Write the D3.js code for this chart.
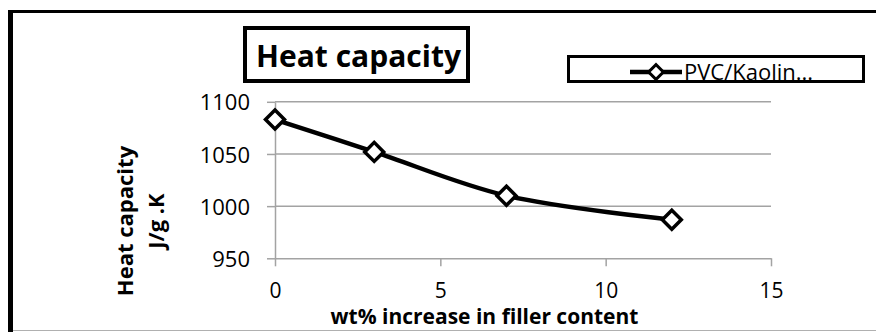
<!DOCTYPE html>
<html><head><meta charset="utf-8">
<script src="https://cdn.jsdelivr.net/npm/d3@7"></script>
<style>body{margin:0;background:#fff} svg{display:block}</style>
</head><body><svg id="chart" width="876" height="332"></svg>
<script>
// Heat capacity of PVC/Kaolin composites vs. filler loading
const fillerWt = [0, 3, 7, 12];
const heatCapacity = [1083, 1052, 1010, 987];
const seriesName = "PVC/Kaolin...";
const xTicks = [0, 5, 10, 15];
const yTicks = [950, 1000, 1050, 1100];
const chartTitle = "Heat capacity";
const xTitle = "wt% increase in filler content";
const yTitleLines = ["Heat capacity", "J/g .K"];

const svg = d3.select("#chart");
const W = 876, H = 332;
const plot = {left: 275, right: 771, top: 101.8, bottom: 258.3};
const grid = "#a3a3a3";
const FONT = "'Open Sans', 'Noto Sans', sans-serif";

const x = d3.scaleLinear().domain([0, 15]).range([plot.left, plot.right]);
const y = d3.scaleLinear().domain([950, 1100]).range([plot.bottom, plot.top]);

// outer chart frame
svg.append("line").attr("x1", 10.5).attr("x2", 10.5).attr("y1", 10).attr("y2", H)
  .attr("stroke", "#000").attr("stroke-width", 5);
svg.append("line").attr("x1", 8).attr("x2", W).attr("y1", 11.5).attr("y2", 11.5)
  .attr("stroke", "#000").attr("stroke-width", 3);
svg.append("line").attr("x1", 13).attr("x2", W).attr("y1", 330.5).attr("y2", 330.5)
  .attr("stroke", "#b0b0b0").attr("stroke-width", 1);

// horizontal gridlines
svg.append("g").selectAll("line").data(yTicks.filter(d => d !== 950)).join("line")
  .attr("x1", plot.left).attr("x2", plot.right)
  .attr("y1", d => y(d)).attr("y2", d => y(d))
  .attr("stroke", grid).attr("stroke-width", 1.5);

// axes
const yAxis = svg.append("g").attr("transform", `translate(${plot.left},0)`)
  .call(d3.axisLeft(y).tickValues(yTicks).tickFormat(d3.format("d"))
    .tickSize(8).tickPadding(17).tickSizeOuter(0));
const xAxis = svg.append("g").attr("transform", `translate(0,${plot.bottom})`)
  .call(d3.axisBottom(x).tickValues(xTicks).tickFormat(d3.format("d"))
    .tickSize(8).tickPadding(17).tickSizeOuter(0));
[yAxis, xAxis].forEach(a => {
  a.select(".domain").attr("stroke", grid).attr("stroke-width", 1.5);
  a.selectAll(".tick line").attr("stroke", grid).attr("stroke-width", 1.5);
  a.selectAll(".tick text").attr("fill", "#000").style("font-family", FONT).style("font-size", "21px");
});
yAxis.selectAll(".tick text").style("font-size", "22px").attr("dy", "0.37em");

// series line
const pts = fillerWt.map((d, i) => [d, heatCapacity[i]]);
svg.append("path").datum(pts)
  .attr("fill", "none").attr("stroke", "#000").attr("stroke-width", 4.5)
  .attr("stroke-linejoin", "round")
  .attr("d", d3.line().x(d => x(d[0])).y(d => y(d[1])).curve(d3.curveCatmullRom.alpha(0.5)));

// diamond markers
const diamond = d3.symbol().type(d3.symbolSquare).size(180);
svg.append("g").selectAll("path").data(pts).join("path")
  .attr("d", diamond)
  .attr("transform", d => `translate(${x(d[0])},${y(d[1])}) rotate(45)`)
  .attr("fill", "#fff").attr("stroke", "#000").attr("stroke-width", 3.5);

// title box
svg.append("rect").attr("x", 245).attr("y", 28).attr("width", 223).attr("height", 53)
  .attr("fill", "#fff").attr("stroke", "#000").attr("stroke-width", 4);
svg.append("text").attr("x", 358.5).attr("y", 67).attr("text-anchor", "middle")
  .style("font-family", FONT).style("font-weight", "bold").style("font-size", "30px")
  .text(chartTitle);

// legend
const lg = svg.append("g");
lg.append("rect").attr("x", 568.5).attr("y", 56.5).attr("width", 295).attr("height", 25)
  .attr("fill", "#fff").attr("stroke", "#000").attr("stroke-width", 3);
lg.append("line").attr("x1", 630).attr("x2", 682).attr("y1", 72).attr("y2", 72)
  .attr("stroke", "#000").attr("stroke-width", 4.5);
lg.append("path").attr("d", d3.symbol().type(d3.symbolSquare).size(110))
  .attr("transform", "translate(656,72) rotate(45)")
  .attr("fill", "#fff").attr("stroke", "#000").attr("stroke-width", 3);
lg.append("text").attr("x", 684).attr("y", 79.5)
  .style("font-family", FONT).style("font-size", "22px").text(seriesName);

// axis titles
svg.append("text").attr("x", 484.5).attr("y", 324).attr("text-anchor", "middle")
  .style("font-family", FONT).style("font-weight", "bold").style("font-size", "21px")
  .text(xTitle);
const yt = svg.append("text").attr("transform", "translate(0,221) rotate(-90)")
  .attr("text-anchor", "middle")
  .style("font-family", FONT).style("font-weight", "bold").style("font-size", "22px");
yt.append("tspan").attr("x", 0).attr("y", 133).text(yTitleLines[0]);
yt.append("tspan").attr("x", 0).attr("y", 164).text(yTitleLines[1]);
</script>
</body></html>
